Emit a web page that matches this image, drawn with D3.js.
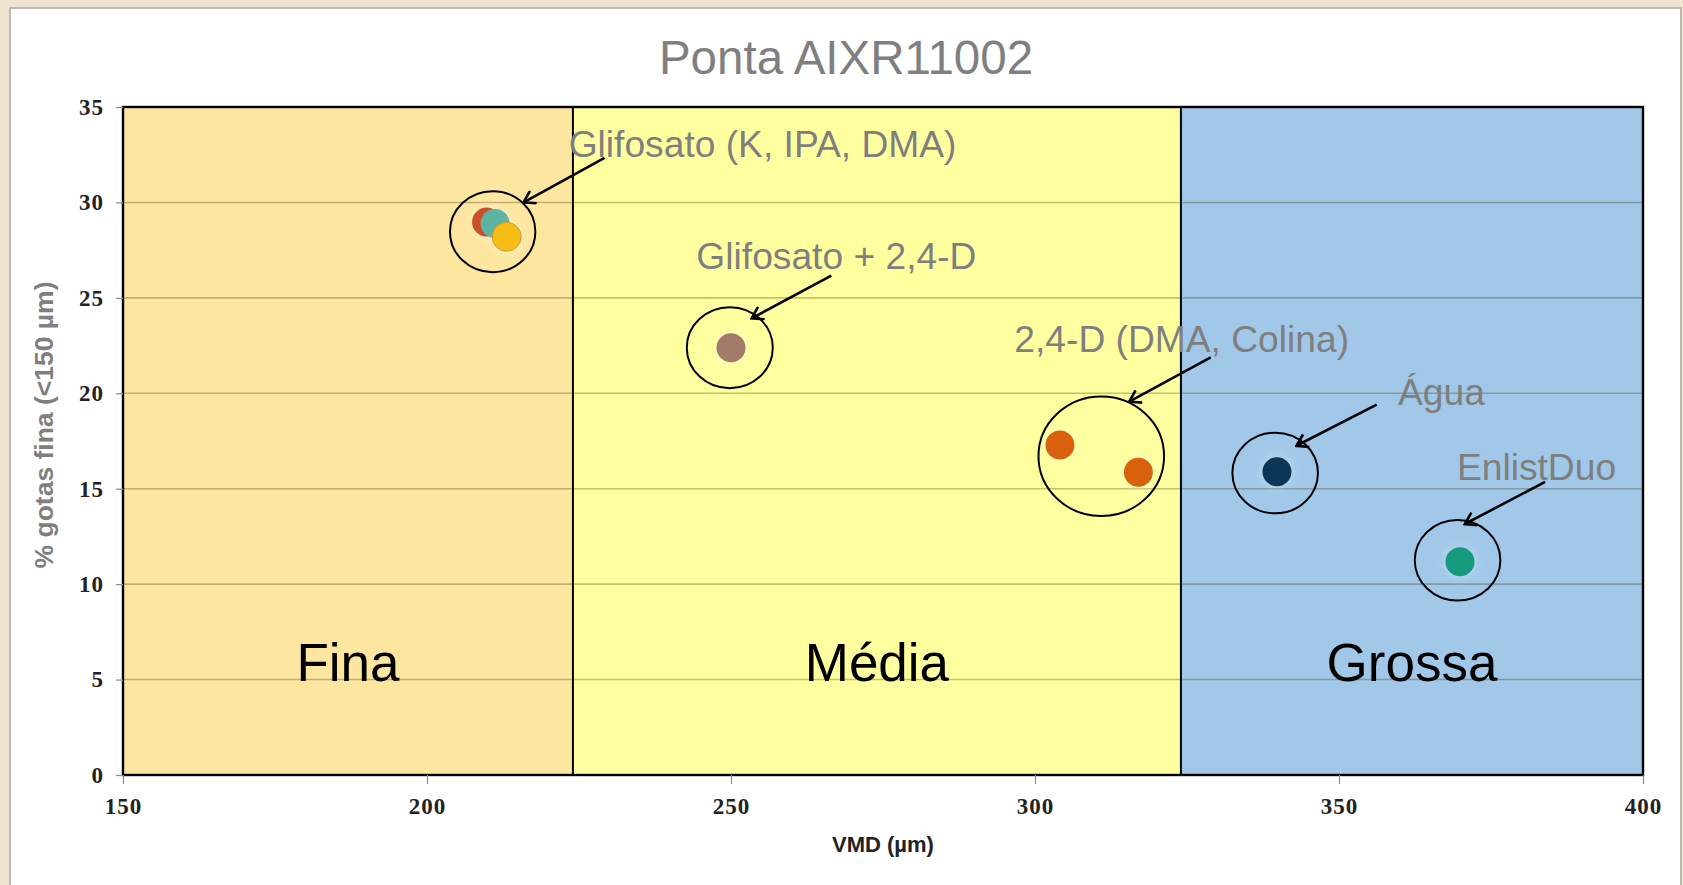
<!DOCTYPE html>
<html>
<head>
<meta charset="utf-8">
<script src="https://cdn.jsdelivr.net/npm/d3@7"></script>
<style>
  html, body { margin: 0; padding: 0; background: #efe4d0; }
  svg { display: block; }
</style>
</head>
<body>
<svg id="chart" width="1683" height="885"></svg>
<script>
// Droplet-spectrum data for nozzle AIXR11002: VMD (µm) vs % fine droplets (<150 µm)
const products = ["Glifosato K", "Glifosato IPA", "Glifosato DMA", "Glifosato + 2,4-D", "2,4-D DMA", "2,4-D Colina", "Água", "EnlistDuo"];
const vmd      = [209.8, 211.2, 213.1, 250.0, 304.1, 317.0, 339.8, 369.9];
const fines    = [28.98, 28.90, 28.20, 22.38, 17.29, 15.86, 15.89, 11.17];
const pointColors = ["#c9502a", "#5cb4a2", "#f6bd17", "#a27a6b", "#d9600f", "#d9600f", "#0c3658", "#159a7d"];

// Spray classes (VMD ranges)
const classNames  = ["Fina", "Média", "Grossa"];
const classStart  = [150, 224, 324];
const classEnd    = [224, 324, 400];
const classColors = ["#fde6a0", "#ffff9f", "#a1c8e8"];

const xTicks = [150, 200, 250, 300, 350, 400];
const yTicks = [0, 5, 10, 15, 20, 25, 30, 35];

// Group annotations: label text, label anchor, arrow tail/tip, and the circled group centre (data units)
const groupLabels = ["Glifosato (K, IPA, DMA)", "Glifosato + 2,4-D", "2,4-D (DMA, Colina)", "Água", "EnlistDuo"];
const labelX   = [223.3, 244.3, 296.6, 359.7, 369.4];
const labelY   = [32.40, 26.49, 22.16, 19.41, 15.47];
const arrowX0  = [229.2, 266.5, 328.9, 356.2, 383.9];
const arrowY0  = [32.34, 26.16, 21.88, 19.41, 15.36];
const arrowX1  = [215.9, 253.4, 315.5, 343.0, 370.7];
const arrowY1  = [30.00, 23.93, 19.56, 17.25, 13.15];
const ringX    = [210.8, 249.8, 310.9, 339.5, 369.5];
const ringY    = [28.47, 22.39, 16.70, 15.82, 11.25];
const ringRx   = [42.7, 43, 62.8, 42.8, 42.8];
const ringRy   = [40.5, 40.5, 59.7, 40.3, 40.3];

const svg = d3.select("#chart");

// white chart panel
svg.append("rect")
  .attr("x", 10).attr("y", 8).attr("width", 1671).attr("height", 890)
  .attr("fill", "#ffffff").attr("stroke", "#b9b9b9").attr("stroke-width", 2);

const plotLeft = 123, plotRight = 1643, plotTop = 107, plotBottom = 775;
const x = d3.scaleLinear().domain([150, 400]).range([plotLeft, plotRight]);
const y = d3.scaleLinear().domain([0, 35]).range([plotBottom, plotTop]);

const defs = svg.append("defs");
defs.append("filter").attr("id", "soft")
  .append("feGaussianBlur").attr("stdDeviation", 0.7);
defs.append("filter").attr("id", "glow").attr("x", "-50%").attr("y", "-50%").attr("width", "200%").attr("height", "200%")
  .append("feGaussianBlur").attr("stdDeviation", 3);
const mk = defs.append("marker").attr("id", "arrowhead")
  .attr("viewBox", "-12 -8 14 16").attr("refX", 0).attr("refY", 0)
  .attr("markerWidth", 14).attr("markerHeight", 16)
  .attr("markerUnits", "userSpaceOnUse").attr("orient", "auto");
mk.append("path").attr("d", "M-11,-7 L0,0 L-11,7")
  .attr("fill", "none").attr("stroke", "#000").attr("stroke-width", 2.6);

// class bands
svg.append("g").selectAll("rect").data(classNames).join("rect")
  .attr("x", (d, i) => x(classStart[i]))
  .attr("y", y(35))
  .attr("width", (d, i) => x(classEnd[i]) - x(classStart[i]))
  .attr("height", y(0) - y(35))
  .attr("fill", (d, i) => classColors[i]);

// horizontal gridlines
svg.append("g").selectAll("line").data(yTicks.filter(t => t > 0 && t < 35)).join("line")
  .attr("x1", plotLeft).attr("x2", plotRight)
  .attr("y1", d => y(d)).attr("y2", d => y(d))
  .attr("stroke", "#3a3200").attr("stroke-opacity", 0.3).attr("stroke-width", 1.6);

// class borders
svg.append("g").selectAll("line").data(classStart.slice(1)).join("line")
  .attr("x1", d => x(d)).attr("x2", d => x(d))
  .attr("y1", y(0)).attr("y2", y(35))
  .attr("stroke", "#000").attr("stroke-width", 2);

svg.append("rect")
  .attr("x", plotLeft).attr("y", plotTop).attr("width", plotRight - plotLeft).attr("height", plotBottom - plotTop)
  .attr("fill", "none").attr("stroke", "#000").attr("stroke-width", 2.4);

// class names
svg.append("g").selectAll("text").data(classNames).join("text")
  .attr("x", (d, i) => (x(classStart[i]) + x(classEnd[i])) / 2)
  .attr("y", y(4.9))
  .attr("text-anchor", "middle")
  .attr("font-family", "Liberation Sans, Arial, sans-serif")
  .attr("font-size", 53)
  .attr("fill", "#000")
  .text(d => d);

// axes
const xAxis = d3.axisBottom(x).tickValues(xTicks).tickSize(9).tickPadding(14).tickFormat(d3.format("d"));
const gx = svg.append("g").attr("transform", `translate(0,${plotBottom})`).call(xAxis);
gx.select(".domain").remove();
gx.selectAll(".tick line").attr("stroke", "#8a8a8a").attr("stroke-width", 1.2);
gx.selectAll(".tick text")
  .attr("font-family", "Liberation Serif, serif").attr("font-size", 23)
  .attr("font-weight", "bold").attr("letter-spacing", 1).attr("fill", "#222");

const yAxis = d3.axisLeft(y).tickValues(yTicks).tickSize(7).tickPadding(12).tickFormat(d3.format("d"));
const gy = svg.append("g").attr("transform", `translate(${plotLeft},0)`).call(yAxis);
gy.select(".domain").remove();
gy.selectAll(".tick line").attr("stroke", "#8a8a8a").attr("stroke-width", 1.2);
gy.selectAll(".tick text")
  .attr("font-family", "Liberation Serif, serif").attr("font-size", 23)
  .attr("font-weight", "bold").attr("letter-spacing", 1).attr("fill", "#222");

// axis titles
svg.append("text")
  .attr("x", (plotLeft + plotRight) / 2).attr("y", 852)
  .attr("text-anchor", "middle")
  .attr("font-family", "Liberation Sans, Arial, sans-serif")
  .attr("font-size", 22).attr("font-weight", "bold").attr("fill", "#222")
  .text("VMD (µm)");

svg.append("text")
  .attr("transform", `translate(53,${(plotTop + plotBottom) / 2 - 16}) rotate(-90)`)
  .attr("text-anchor", "middle")
  .attr("font-family", "Liberation Sans, Arial, sans-serif")
  .attr("font-size", 26.5).attr("font-weight", "bold").attr("fill", "#7f7f7f")
  .text("% gotas fina (<150 µm)");

// title
svg.append("text")
  .attr("x", 846).attr("y", 74)
  .attr("text-anchor", "middle")
  .attr("font-family", "Liberation Sans, Arial, sans-serif")
  .attr("font-size", 47.5).attr("fill", "#7f7f7f")
  .text("Ponta AIXR11002");

// points with a faint halo
const pts = products.map((p, i) => ({ p, vx: vmd[i], vy: fines[i], c: pointColors[i] }));
svg.append("g").selectAll("circle").data(pts).join("circle")
  .attr("cx", d => x(d.vx)).attr("cy", d => y(d.vy)).attr("r", 18)
  .attr("fill", "#ffffff").attr("fill-opacity", 0.18).attr("filter", "url(#glow)");
svg.append("g").selectAll("circle").data(pts).join("circle")
  .attr("cx", d => x(d.vx)).attr("cy", d => y(d.vy)).attr("r", 14.5)
  .attr("fill", d => d.c)
  .attr("stroke", d => d.p === "Glifosato DMA" ? "#c79d3a" : "none")
  .attr("stroke-width", 1)
  .attr("filter", "url(#soft)");

// group rings
svg.append("g").selectAll("ellipse").data(groupLabels).join("ellipse")
  .attr("cx", (d, i) => x(ringX[i])).attr("cy", (d, i) => y(ringY[i]))
  .attr("rx", (d, i) => ringRx[i]).attr("ry", (d, i) => ringRy[i])
  .attr("fill", "none").attr("stroke", "#000").attr("stroke-width", 2);

// arrows
svg.append("g").selectAll("line").data(groupLabels).join("line")
  .attr("x1", (d, i) => x(arrowX0[i])).attr("y1", (d, i) => y(arrowY0[i]))
  .attr("x2", (d, i) => x(arrowX1[i])).attr("y2", (d, i) => y(arrowY1[i]))
  .attr("stroke", "#000").attr("stroke-width", 2.6)
  .attr("marker-end", "url(#arrowhead)");

// group labels
svg.append("g").selectAll("text").data(groupLabels).join("text")
  .attr("x", (d, i) => x(labelX[i])).attr("y", (d, i) => y(labelY[i]))
  .attr("font-family", "Liberation Sans, Arial, sans-serif")
  .attr("font-size", 37.2).attr("fill", "#7f7f7f")
  .text(d => d);
</script>
</body>
</html>
